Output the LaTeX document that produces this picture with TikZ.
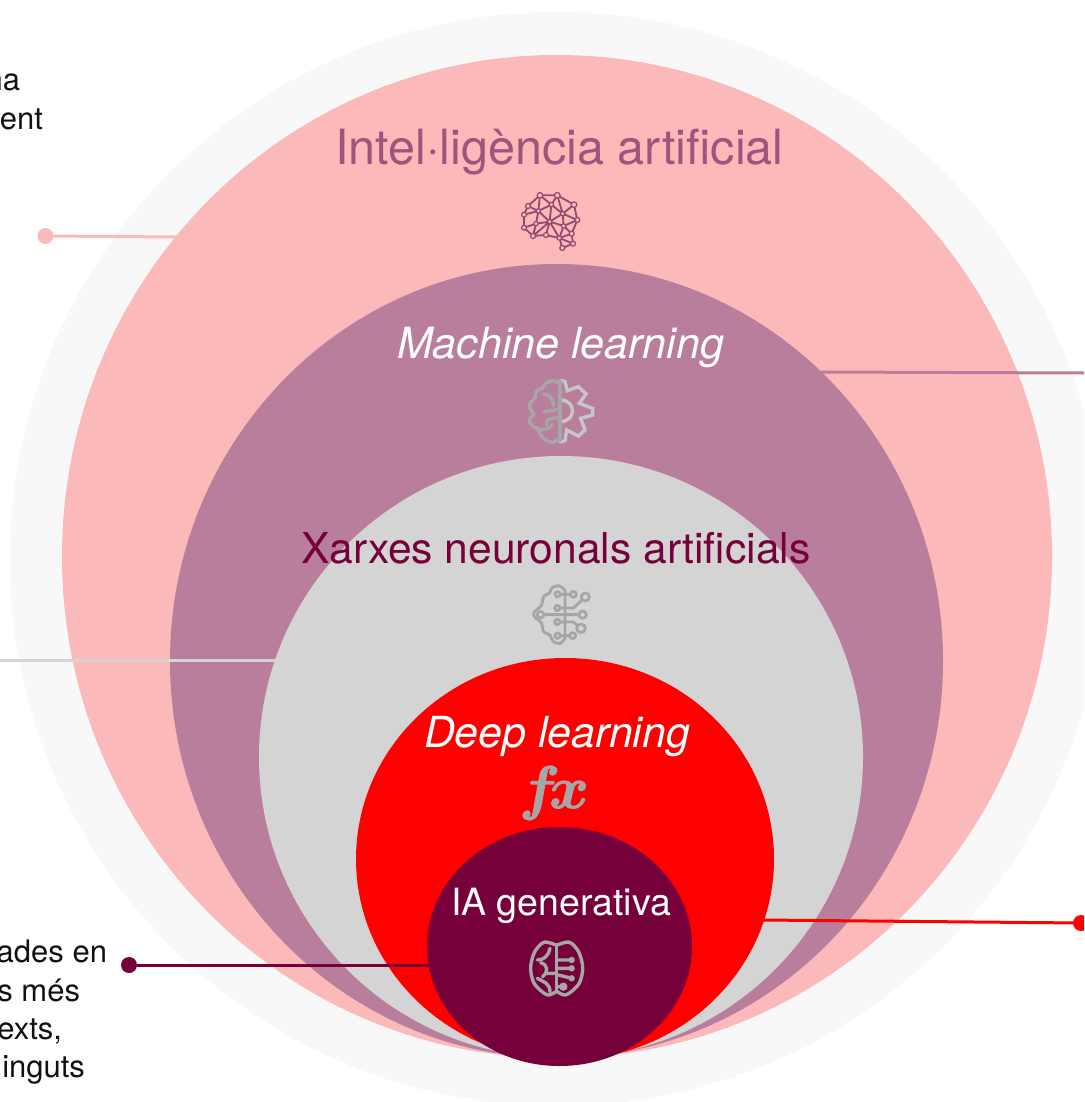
\documentclass[tikz,border=0pt]{standalone}
\usepackage{fontspec}
\setmainfont{TeX Gyre Heros}
\usetikzlibrary{shapes.geometric}
\definecolor{outerc}{HTML}{F8F8F8}
\definecolor{pinkc}{HTML}{FBB9BA}
\definecolor{mauvec}{HTML}{BA7E9D}
\definecolor{greyc}{HTML}{D4D4D4}
\definecolor{redc}{HTML}{FF0000}
\definecolor{darkc}{HTML}{75003A}
\definecolor{titlec}{HTML}{A1537B}
\definecolor{netc}{HTML}{95486F}
\definecolor{iconc}{HTML}{A6A6A6}
\definecolor{gearc}{HTML}{C6C6C6}
\definecolor{bodyc}{HTML}{111111}
\font\fxglyph=cmmib10 at 60pt
\tikzset{
  disc/.style={ellipse,inner sep=0pt,outer sep=0pt,draw=none},
  big/.style={inner sep=0pt,outer sep=0pt,anchor=base,font=\fontsize{#1}{#1}\selectfont},
  body/.style={inner sep=0pt,outer sep=0pt,anchor=base east,text=bodyc,font=\fontsize{31}{31}\selectfont},
  dot/.style={circle,inner sep=0pt,outer sep=0pt,minimum size=#1 pt},
  link/.style={line width=3pt},
  ico/.style={line width=3.4pt,line cap=round,line join=round},
}
\newcommand{\hub}[3]{\filldraw[fill=#3,draw=netc,line width=1.2pt] (#1) circle (#2);}
\begin{document}
\begin{tikzpicture}[x=1pt,y=-1pt]
\useasboundingbox (0,0) rectangle (1084,1102);
\clip (0,0) rectangle (1084,1102);
\fill[white] (0,0) rectangle (1084,1102);
% nested discs
\node[disc,fill=outerc,minimum width=1094pt,minimum height=1094pt] (outer) at (557,559) {};
\node[disc,fill=pinkc,minimum width=990pt,minimum height=1003pt] (ai) at (557,556.5) {};
\node[disc,fill=mauvec,minimum width=773pt,minimum height=794pt] (ml) at (556.5,661) {};
\node[disc,fill=greyc,minimum width=604pt,minimum height=602pt] (ann) at (561,757) {};
\node[disc,fill=redc,minimum width=418pt,minimum height=402pt] (dl) at (565,859) {};
\node[disc,fill=darkc,minimum width=265pt,minimum height=239pt] (gen) at (559.5,946.5) {};
% connectors
\node[dot=16,fill=pinkc] (dotai) at (45.5,236) {};
\coordinate (endai) at (178,237);
\draw[link,draw=pinkc] (dotai) -- (endai);
\coordinate (startml) at (820,372);
\coordinate (endml) at (1084,373);
\draw[link,draw=mauvec] (startml) -- (endml);
\coordinate (startann) at (0,660);
\coordinate (endann) at (276,660);
\draw[link,draw=greyc] (startann) -- (endann);
\node[dot=16,fill=redc] (dotdl) at (1081,923) {};
\coordinate (enddl) at (763,920);
\draw[link,draw=redc] (dotdl) -- (enddl);
\node[dot=16,fill=darkc] (dotgen) at (129,965) {};
\coordinate (endgen) at (431,965);
\draw[link,draw=darkc] (dotgen) -- (endgen);
% titles
\node[big=48.5,text=titlec] (t1) at (559.5,165) {Intel·ligència artificial};
\node[big=43,text=white] (t2) at (560.5,358) {\itshape Machine learning};
\node[big=42.6,text=darkc] (t3) at (556,563) {Xarxes neuronals artificials};
\node[big=42.8,text=white] (t4) at (557,747) {\itshape Deep learning};
\node[big=37.5,text=white] (t5) at (561,915) {IA generativa};
% side text
\node[body] (a1) at (20,91) {na};
\node[body] (a2) at (43,130) {ent};
\node[body] (b1) at (107,962) {ades en};
\node[body] (b2) at (80,1001) {s més};
\node[body] (b3) at (62,1039) {exts,};
\node[body] (b4) at (85,1077) {inguts};
% fx
\node[inner sep=0pt,outer sep=0pt,anchor=base,text=iconc] (fx) at (554,808)
  {\special{pdf:code 2 Tr 1 w 0.651 0.651 0.651 RG}\fxglyph f\kern-4pt x\special{pdf:code 0 Tr 1 w}};
% network brain
\begin{scope}[shift={(500,180)},x=.3333pt,y=-.3333pt]
\coordinate (A) at (120,46);\coordinate (B) at (172,46);\coordinate (C) at (222,74);
\coordinate (D) at (84,78);\coordinate (E) at (154,74);\coordinate (F) at (115,93);
\coordinate (G) at (72,104);\coordinate (H) at (188,101);\coordinate (I) at (232,120);
\coordinate (J) at (149,125);\coordinate (K) at (108,131);\coordinate (L) at (191,138);
\coordinate (M) at (72,143);\coordinate (N) at (99,168);\coordinate (O) at (138,165);
\coordinate (P) at (178,174);\coordinate (Q) at (215,161);\coordinate (R) at (219,191);
\coordinate (S) at (187,204);
\draw[netc,line width=1.8pt]
 (A)--(B) (A)--(D) (B)--(C) (A)--(F) (A)--(E) (B)--(E) (B)--(H) (C)--(H) (C)--(I)
 (D)--(F) (D)--(G) (E)--(F) (E)--(J) (E)--(H) (F)--(G) (F)--(J) (F)--(K) (G)--(M)
 (H)--(J) (H)--(I) (H)--(L) (I)--(L) (I)--(Q) (J)--(K) (J)--(L) (J)--(N) (J)--(O)
 (J)--(P) (K)--(M) (K)--(N) (M)--(N) (N)--(O) (O)--(P) (L)--(P) (L)--(Q) (P)--(Q)
 (P)--(R) (Q)--(R) (R)--(S) (S)--(P);
\foreach \nn/\rr in {A/2.8,B/2.8,C/2.8,D/2.5,E/2.2,F/2.2,G/2.5,H/2.2,I/2.5,J/2.2,K/2.2,L/2.2,M/2.5,N/2.5,O/2.5,P/2.2,Q/2.5,R/2.5,S/2.5}
  {\hub{\nn}{\rr pt}{pinkc}}
\end{scope}
% gear brain
\begin{scope}[shift={(510,370)},x=.3333pt,y=-.3333pt]
\draw[ico,gearc,line join=miter] (150,32)--(165,34)--(172,62)--(205,50)--(228,72)--(208,100)--(248,115)--(248,135)--(212,145)--(225,180)--(205,198)--(170,180)--(165,212)--(150,216);
\draw[ico,gearc] (150,90) .. controls (200,90) and (200,155) .. (150,155);
\draw[ico,iconc] (150,35)--(150,210);
\draw[ico,iconc] plot[smooth,tension=.6] coordinates {(150,45)(130,32)(105,42)(98,55)(80,62)(75,85)(60,100)(62,120)(72,132)(58,150)(70,170)(85,178)(95,200)(125,217)(150,205)};
\draw[ico,iconc] (100,72) .. controls (125,75) and (130,90) .. (130,108);
\draw[ico,iconc] (102,125) -- (125,122) .. controls (135,120) and (145,118) .. (150,115);
\draw[ico,iconc] (150,145) .. controls (125,140) and (105,150) .. (110,165);
\draw[ico,iconc] (85,178) .. controls (105,182) and (120,175) .. (125,165);
\end{scope}
% circuit brain
\begin{scope}[shift={(510,575)},x=.3333pt,y=-.3333pt]
\draw[ico,iconc,line width=2.9pt] plot[smooth,tension=.6] coordinates {(165,45)(145,32)(125,40)(118,55)(100,65)(95,90)(70,118)(95,145)(100,170)(120,180)(130,200)(150,205)(165,190)};
\draw[ico,iconc,line width=2.9pt] (165,45)--(165,190)
 (143,58)--(190,58) (142,99)--(190,99)--(226,66) (92,119)--(218,119)
 (142,141)--(190,141)--(213,160) (143,182)--(188,182);
\foreach \xa/\ya/\rr in {143/58/2.7,190/58/3,226/66/4,142/99/2.7,92/119/3.3,218/119/3.7,142/141/2.7,213/160/4.3,143/182/2.7,188/182/3}
  {\filldraw[fill=greyc,draw=iconc,line width=2.7pt] (\xa,\ya) circle (\rr pt);}
\end{scope}
% plain brain
\begin{scope}[shift={(500,760)},x=.3333pt,y=-.3333pt]
\draw[ico,iconc] plot[smooth,tension=.6] coordinates {(168,555)(135,546)(115,560)(100,585)(92,625)(100,665)(120,690)(145,705)(168,695)};
\draw[ico,iconc] plot[smooth,tension=.6] coordinates {(172,555)(205,546)(225,560)(240,585)(248,625)(240,665)(220,690)(195,705)(172,695)};
\draw[ico,iconc] (170,555)--(170,695);
\draw[ico,iconc] (150,565) .. controls (145,590) and (130,600) .. (112,600);
\draw[ico,iconc] (122,608) .. controls (145,615) and (145,635) .. (128,650) (165,640)--(135,640);
\draw[ico,iconc] (112,655) .. controls (130,665) and (150,670) .. (150,695);
\draw[ico,iconc] (175,600)--(215,600) (175,625)--(215,625) (175,645)--(215,655) (175,680)--(190,680);
\foreach \xa/\ya/\rr in {215/600/3.2,215/625/3.2,215/655/3.2,190/680/4.2}
  {\fill[iconc] (\xa,\ya) circle (\rr pt);}
\end{scope}
\end{tikzpicture}
\end{document}
